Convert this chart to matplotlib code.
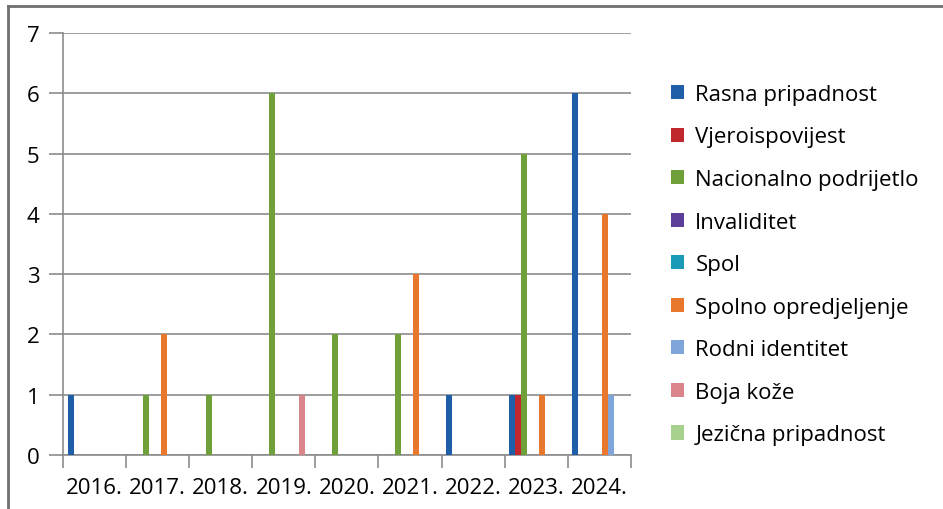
import matplotlib.pyplot as plt
import numpy as np

plt.rcParams['font.family'] = ['Open Sans', 'DejaVu Sans']

years = ['2016.', '2017.', '2018.', '2019.', '2020.', '2021.', '2022.', '2023.', '2024.']

rasna = [1, 0, 0, 0, 0, 0, 1, 1, 6]
vjera = [0, 0, 0, 0, 0, 0, 0, 1, 0]
nacionalno = [0, 1, 1, 6, 2, 2, 0, 5, 0]
invaliditet = [0, 0, 0, 0, 0, 0, 0, 0, 0]
spol = [0, 0, 0, 0, 0, 0, 0, 0, 0]
spolno = [0, 2, 0, 0, 0, 3, 0, 1, 4]
rodni = [0, 0, 0, 0, 0, 0, 0, 0, 1]
boja = [0, 0, 0, 1, 0, 0, 0, 0, 0]
jezicna = [0, 0, 0, 0, 0, 0, 0, 0, 0]

labels = ['Rasna pripadnost', 'Vjeroispovijest', 'Nacionalno podrijetlo',
          'Invaliditet', 'Spol', 'Spolno opredjeljenje', 'Rodni identitet',
          'Boja kože', 'Jezična pripadnost']
series = [rasna, vjera, nacionalno, invaliditet, spol, spolno, rodni, boja, jezicna]
colors = ['#1F5FAA', '#C0282D', '#6FA03A', '#5B3F99', '#1C9BB8',
          '#E8782E', '#7FA6DA', '#DA8589', '#A9D18E']

fig = plt.figure(figsize=(9.43, 5.10), dpi=100)
ax = fig.add_axes([0.0668, 0.1059, 0.6022, 0.8274])

x = np.arange(len(years))
width = 0.095
for i, (vals, lab, col) in enumerate(zip(series, labels, colors)):
    offset = (i - (len(series) - 1) / 2) * width
    ax.bar(x + offset, vals, width, color=col, label=lab, zorder=3)

ax.set_xlim(-0.5, len(years) - 0.5)
ax.set_ylim(0, 7)
ax.set_yticks(range(8))
ax.set_xticks(x)
ax.set_xticklabels(years)
# tick marks sit on the category boundaries
ax.set_xticks(np.arange(-0.5, len(years)), minor=True)
ax.tick_params(axis='x', which='major', length=0, pad=16, labelsize=16)
ax.tick_params(axis='x', which='minor', length=9, color='#8C8C8C', width=1.2)
ax.tick_params(axis='y', length=10, color='#8C8C8C', width=1.2, pad=7, labelsize=16)

ax.grid(axis='y', color='#8C8C8C', linewidth=1.2, zorder=0)
for side in ['top', 'right']:
    ax.spines[side].set_visible(False)
for side in ['left', 'bottom']:
    ax.spines[side].set_color('#8C8C8C')
    ax.spines[side].set_linewidth(1.2)

fig.legend(loc='upper left', bbox_to_anchor=(0.702, 0.851), frameon=False,
           fontsize=16, handlelength=0.6, handleheight=0.6, handletextpad=0.5,
           labelspacing=0.97, borderaxespad=0)

# border lines of the pasted chart
fig.add_artist(plt.Line2D([8 / 943, 1], [1 - 7 / 510, 1 - 7 / 510], color='#6E7072', linewidth=2))
fig.add_artist(plt.Line2D([8 / 943, 8 / 943], [0, 1 - 7 / 510], color='#6E7072', linewidth=2))

fig.savefig('out.png', dpi=100)
